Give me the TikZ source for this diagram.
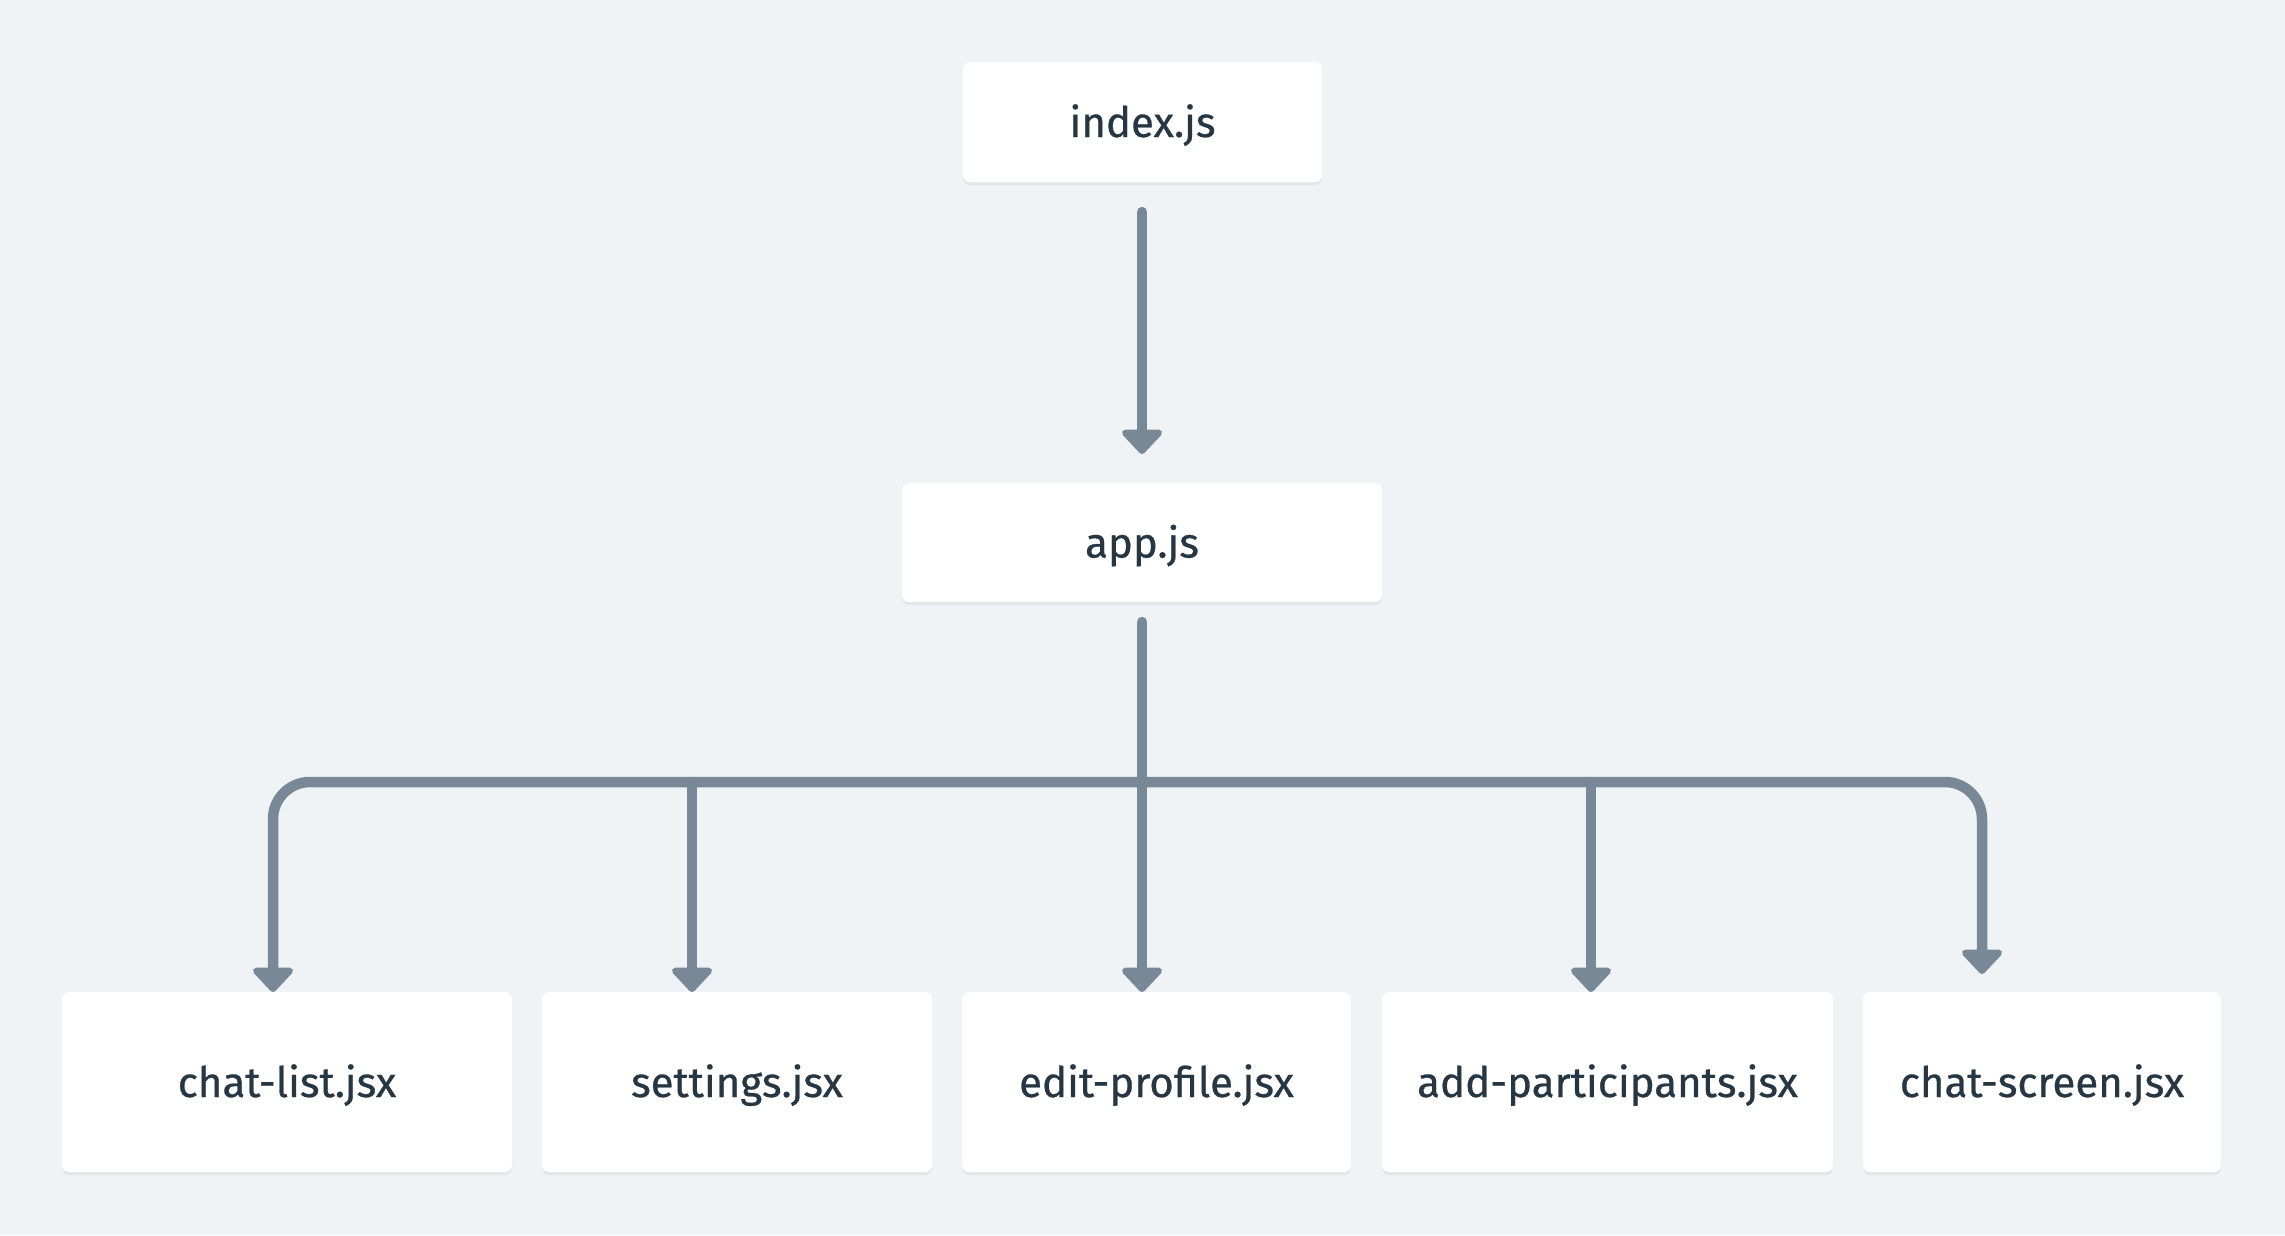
\documentclass[tikz,border=0pt]{standalone}
\usepackage{fontspec}
\setmainfont{Fira Sans}[FakeBold=0.6]
\usetikzlibrary{arrows.meta,shadows}
\definecolor{bg}{HTML}{EFF3F6}
\definecolor{conncol}{HTML}{788897}
\definecolor{txt}{HTML}{263643}
\tikzset{
  filebox/.style={draw=none, fill=white, rounded corners=7pt, inner sep=0pt,
    text=txt, font=\fontsize{42}{48}\selectfont, text height=31pt, text depth=1pt,
    drop shadow={shadow xshift=0pt, shadow yshift=-3pt, opacity=0.05, fill=black}},
  headtip/.tip={Triangle[width=47pt 0,length=26pt 0,round]},
  conn/.style={draw=conncol, line width=10.5pt, line cap=round, -headtip},
  connplain/.style={draw=conncol, line width=10.5pt, line cap=round}
}
\begin{document}
\begin{tikzpicture}[x=1pt,y=-1pt]
\fill[bg] (0,0) rectangle (2285,1235);
\useasboundingbox (0,0) rectangle (2285,1235);

\node[filebox, minimum width=359pt, minimum height=120pt] (index) at (1142.5,122) {index.js};
\node[filebox, minimum width=480pt, minimum height=119pt] (app) at (1142,542.5) {app.js};

\node[filebox, minimum width=450pt, minimum height=180pt] (chatlist) at (287,1082) {chat-list.jsx};
\node[filebox, minimum width=390pt, minimum height=180pt] (settings) at (737,1082) {settings.jsx};
\node[filebox, minimum width=389pt, minimum height=180pt] (edit) at (1156.5,1082) {edit-profile.jsx};
\node[filebox, minimum width=451pt, minimum height=180pt] (add) at (1607.5,1082) {add-participants.jsx};
\node[filebox, minimum width=358pt, minimum height=180pt] (chat) at (2042,1082) {chat-screen.jsx};

\coordinate (idxout) at (1142,212);
\coordinate (appin) at (1142,454);
\coordinate (appout) at (1142,622);
\coordinate (busL) at (273,782);
\coordinate (busR) at (1982,782);
\coordinate (tipL) at (273,992);
\coordinate (tipR) at (1982,974);
\coordinate (busS) at (692,782);
\coordinate (tipS) at (692,992);
\coordinate (busA) at (1591,782);
\coordinate (tipA) at (1591,992);
\coordinate (tipE) at (1142,992);

\draw[conn] (idxout) -- (appin);
\draw[connplain, rounded corners=37pt, headtip-headtip]
  (tipL) -- (busL) -- (busR) -- (tipR);
\draw[conn] (appout) -- (tipE);
\draw[conn] (busS) -- (tipS);
\draw[conn] (busA) -- (tipA);
\end{tikzpicture}
\end{document}
